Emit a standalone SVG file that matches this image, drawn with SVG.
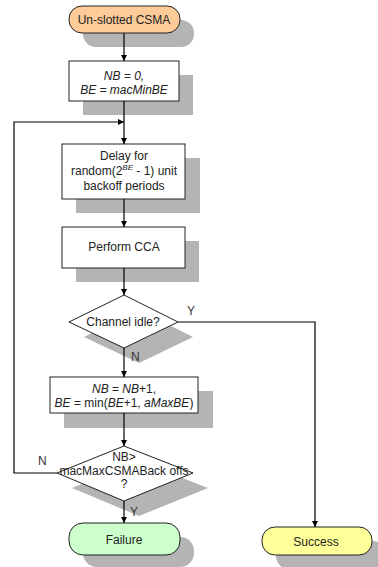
<svg xmlns="http://www.w3.org/2000/svg" width="378" height="567" viewBox="0 0 378 567">
<defs>
<style>
.sh{fill:#b4b4b4;stroke:none}
.box{fill:#ffffff;stroke:#222;stroke-width:1}
.t{font-family:"Liberation Sans",Arial,sans-serif;font-size:12px;fill:#222;text-anchor:middle}
.i{font-style:italic}
.ln{fill:none;stroke:#000;stroke-width:1.2}
.lb{font-family:"Liberation Sans",Arial,sans-serif;font-size:12px;fill:#333}
</style>
<marker id="ah" viewBox="0 0 10 10" refX="10" refY="5" markerWidth="6" markerHeight="9" orient="auto" markerUnits="userSpaceOnUse">
<path d="M0,0 L10,5 L0,10 z" fill="#000"/>
</marker>
</defs>
<rect width="378" height="567" fill="#fff"/>

<g id="start">
<rect class="sh" x="83" y="20" width="111" height="27" rx="13"/>
<rect x="69" y="6" width="111" height="27" rx="13" fill="#ffcc99" stroke="#222"/>
<text class="t" x="124" y="24">Un-slotted CSMA</text>
</g>

<g id="init">
<rect class="sh" x="83" y="75" width="110" height="40"/>
<rect class="box" x="69" y="61" width="110" height="40"/>
<text class="t i" x="124" y="80" font-size="11">NB = 0,</text>
<text class="t i" x="124" y="94" font-size="11">BE = macMinBE</text>
</g>

<g id="delay">
<rect class="sh" x="76" y="158" width="124" height="55"/>
<rect class="box" x="62" y="144" width="123" height="55"/>
<text class="t" x="124" y="160">Delay for</text>
<text class="t" x="124" y="175">random(2<tspan class="i" font-size="8" dy="-5">BE</tspan><tspan dy="5"> - 1) unit</tspan></text>
<text class="t" x="124" y="190">backoff periods</text>
</g>

<g id="cca">
<rect class="sh" x="76" y="241" width="123" height="41"/>
<rect class="box" x="62" y="227" width="123" height="41"/>
<text class="t" x="124" y="251">Perform CCA</text>
</g>

<g id="idle">
<polygon class="sh" points="139,310 193,337 139,363 84,337"/>
<polygon class="box" points="124,295 178,322 124,348 69,322"/>
<text class="t" x="123" y="326" font-size="11">Channel idle?</text>
</g>

<g id="update">
<rect class="sh" x="64" y="391" width="149" height="37"/>
<rect class="box" x="50" y="377" width="148" height="36"/>
<text class="t" x="124" y="393" font-size="11"><tspan class="i">NB</tspan> = <tspan class="i">NB</tspan>+1,</text>
<text class="t" x="124" y="407" font-size="11"><tspan class="i">BE</tspan> = min(<tspan class="i">BE</tspan>+1, <tspan class="i">aMaxBE</tspan>)</text>
</g>

<g id="check">
<polygon class="sh" points="139,461 208,488 139,516 72,488"/>
<polygon class="box" points="124,446 193,473 124,501 57,473"/>
<text class="t" x="124" y="461" font-size="8.5">NB&gt;</text>
<text class="t" x="124" y="475" font-size="8.5">macMaxCSMABack offs</text>
<text class="t" x="124" y="488" font-size="8.5">?</text>
</g>

<g id="failure">
<rect class="sh" x="83" y="537" width="111" height="30" rx="14"/>
<rect x="69" y="523" width="111" height="32" rx="14" fill="#ccffcc" stroke="#222"/>
<text class="t" x="124" y="544">Failure</text>
</g>

<g id="success">
<rect class="sh" x="276" y="541" width="110" height="28" rx="13"/>
<rect x="262" y="527" width="110" height="28" rx="13" fill="#ffff99" stroke="#222"/>
<text class="t" x="316" y="546">Success</text>
</g>

<g id="connectors">
<line class="ln" x1="124" y1="33" x2="124" y2="61" marker-end="url(#ah)"/>
<line class="ln" x1="124" y1="101" x2="124" y2="144" marker-end="url(#ah)"/>
<line class="ln" x1="124" y1="199" x2="124" y2="227" marker-end="url(#ah)"/>
<line class="ln" x1="124" y1="268" x2="124" y2="295" marker-end="url(#ah)"/>
<line class="ln" x1="124" y1="348" x2="124" y2="377" marker-end="url(#ah)"/>
<line class="ln" x1="124" y1="413" x2="124" y2="446" marker-end="url(#ah)"/>
<line class="ln" x1="124" y1="501" x2="124" y2="523" marker-end="url(#ah)"/>
<polyline class="ln" points="178,322 315,322 315,527" marker-end="url(#ah)"/>
<polyline class="ln" points="57,473 14,473 14,122 124,122" marker-end="url(#ah)"/>
<text class="lb" x="187" y="315">Y</text>
<text class="lb" x="131" y="361">N</text>
<text class="lb" x="38" y="465">N</text>
<text class="lb" x="130" y="516">Y</text>
</g>
</svg>
